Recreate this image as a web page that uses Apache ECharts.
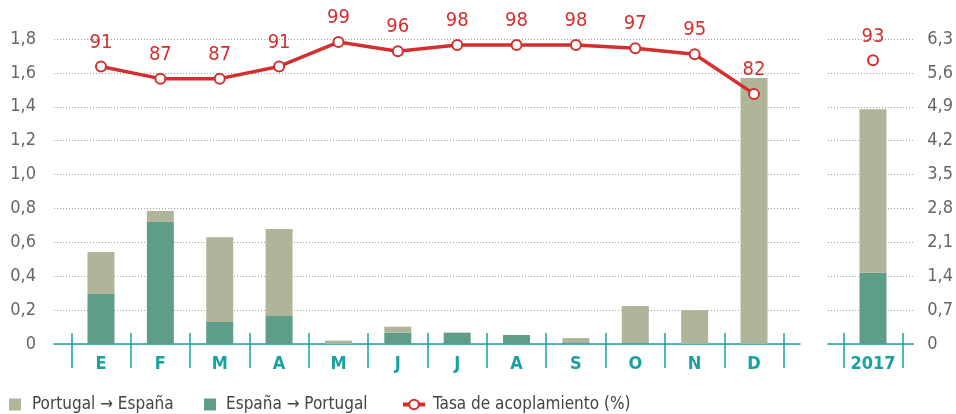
<!DOCTYPE html>
<html><head><meta charset="utf-8">
<script src="https://cdn.jsdelivr.net/npm/echarts@6/dist/echarts.min.js"></script>
<style>html,body{margin:0;padding:0;background:#fff}#c{width:956px;height:414px}</style>
</head><body><div id="c"></div>
<script>
// ---- data ----
const months = ['E','F','M','A','M','J','J','A','S','O','N','D'];
const portugalEspana = [0.248,0.065,0.50,0.514,0.02,0.035,0,0,0.025,0.214,0.20,1.57];
const espanaPortugal = [0.295,0.72,0.13,0.165,0,0.067,0.067,0.053,0.01,0.01,0,0];
const tasa = [91,87,87,91,99,96,98,98,98,97,95,82];
const yearCats = ['2017'];
const yearPortugalEspana = [3.38];
const yearEspanaPortugal = [1.47];
const yearTasa = [93];
const leftAxisMax = 1.8, leftAxisStep = 0.2;
const rightAxisMax = 6.3, rightAxisStep = 0.7;
const tasaMax = 100;

// ---- styles ----
const FONT = "'Liberation Sans Narrow','DejaVu Sans Condensed','Roboto',sans-serif";
const TEAL = '#17a2a2';
const GRAY_BAR = '#b0b498';
const GREEN_BAR = '#5e9e88';
const RED = '#d32f2f';
const fmt = v => v === 0 ? '0' : v.toFixed(1).replace('.', ',');
const TOP = 39, H = 305;

const chart = echarts.init(document.getElementById('c'));
const splitLine = {show:true, lineStyle:{color:'#a0a0a0', type:[1,2], width:1}};
const bgX = gi => ({type:'value', gridIndex:gi, min:0, max:1, show:true,
  axisLine:{show:true, onZero:false, lineStyle:{color:TEAL, width:1.5}},
  axisTick:{show:false}, axisLabel:{show:false}, splitLine:{show:false}});
const catX = (gi, data, labels) => ({type:'category', gridIndex:gi, data:data, position:'bottom',
  axisLine:{show:false},
  axisTick:{show:true, inside:!labels, length: labels ? 24 : 11, alignWithLabel:false, interval:0,
    lineStyle:{color:TEAL, width:1.5}},
  axisLabel:{show:labels, color:TEAL, fontFamily:FONT, fontSize:18, fontWeight:'bold', margin:11, interval:0}});
const legendText = pad => ({color:'#444', fontFamily:FONT, fontSize:17, padding:[0,0,0,pad]});

chart.setOption({
  animation:false,
  grid:[
    {left:54, top:TOP, width:746, height:H},
    {left:71.3, top:TOP, width:712.4, height:H},
    {left:828, top:TOP, width:90, height:H},
    {left:843.3, top:TOP, width:59.4, height:H}
  ],
  xAxis:[
    bgX(0),
    catX(1, months, true),
    catX(1, months, false),
    bgX(2),
    catX(3, yearCats, true),
    catX(3, yearCats, false)
  ],
  yAxis:[
    {type:'value', gridIndex:0, min:0, max:leftAxisMax, interval:leftAxisStep, position:'left',
      axisLine:{show:false}, axisTick:{show:false}, splitLine:splitLine,
      axisLabel:{color:'#666', fontFamily:FONT, fontSize:18, margin:18, formatter:fmt}},
    {type:'value', gridIndex:1, min:0, max:leftAxisMax, show:false, splitLine:{show:false}},
    {type:'value', gridIndex:1, min:0, max:tasaMax, show:false, splitLine:{show:false}},
    {type:'value', gridIndex:2, min:0, max:rightAxisMax, interval:rightAxisStep, position:'right',
      axisLine:{show:false}, axisTick:{show:false}, splitLine:splitLine,
      axisLabel:{color:'#666', fontFamily:FONT, fontSize:18, margin:14, formatter:fmt}},
    {type:'value', gridIndex:3, min:0, max:rightAxisMax, show:false, splitLine:{show:false}},
    {type:'value', gridIndex:3, min:0, max:tasaMax, show:false, splitLine:{show:false}}
  ],
  legend:[
    {left:4, top:391, icon:'rect', itemWidth:12, itemHeight:12, data:['Portugal \u2192 Espa\u00f1a'],
      textStyle:legendText(6)},
    {left:199, top:391, icon:'rect', itemWidth:12, itemHeight:12, data:['Espa\u00f1a \u2192 Portugal'],
      textStyle:legendText(5)},
    {left:396, top:391, itemWidth:22, itemHeight:12, data:['Tasa de acoplamiento (%)'],
      lineStyle:{width:4}, textStyle:legendText(3)}
  ],
  series:[
    {name:'Espa\u00f1a \u2192 Portugal', type:'bar', xAxisIndex:1, yAxisIndex:1, stack:'m',
      barWidth:27, itemStyle:{color:GREEN_BAR}, data:espanaPortugal},
    {name:'Portugal \u2192 Espa\u00f1a', type:'bar', xAxisIndex:1, yAxisIndex:1, stack:'m',
      barWidth:27, itemStyle:{color:GRAY_BAR}, data:portugalEspana},
    {name:'Tasa de acoplamiento (%)', type:'line', xAxisIndex:1, yAxisIndex:2, data:tasa,
      symbol:'emptyCircle', symbolSize:10, z:5,
      lineStyle:{color:RED, width:3.5}, itemStyle:{color:RED, borderColor:RED, borderWidth:3},
      label:{show:true, position:'top', distance:8, color:RED, fontFamily:FONT, fontSize:20}},
    {name:'Espa\u00f1a \u2192 Portugal', type:'bar', xAxisIndex:4, yAxisIndex:4, stack:'y',
      barWidth:27, itemStyle:{color:GREEN_BAR}, data:yearEspanaPortugal},
    {name:'Portugal \u2192 Espa\u00f1a', type:'bar', xAxisIndex:4, yAxisIndex:4, stack:'y',
      barWidth:27, itemStyle:{color:GRAY_BAR}, data:yearPortugalEspana},
    {name:'Tasa de acoplamiento (%)', type:'line', xAxisIndex:4, yAxisIndex:5, data:yearTasa,
      symbol:'emptyCircle', symbolSize:10, z:5,
      lineStyle:{color:RED, width:3.5}, itemStyle:{color:RED, borderColor:RED, borderWidth:3},
      label:{show:true, position:'top', distance:8, color:RED, fontFamily:FONT, fontSize:20}}
  ]
});
</script></body></html>
